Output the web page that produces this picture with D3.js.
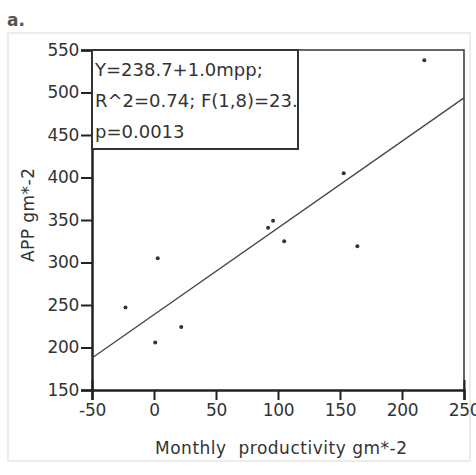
<!DOCTYPE html>
<html>
<head>
<meta charset="utf-8">
<script src="https://cdn.jsdelivr.net/npm/d3@7"></script>
<style>
  body { margin: 0; background: #fff; }
  text { font-family: "DejaVu Sans", sans-serif; fill: #333; }
</style>
</head>
<body>
<div class="canvas"></div>
<script>
// data
const mpp = [-23, 1, 3, 22, 92, 96, 105, 153, 164, 218];
const app = [247, 206, 305, 224, 341, 349, 325, 405, 319, 538];
const xTicks = [-50, 0, 50, 100, 150, 200, 250];
const yTicks = [150, 200, 250, 300, 350, 400, 450, 500, 550];
const fitIntercept = 238.7;
const fitSlope = 1.02;
const statLines = ['Y=238.7+1.0mpp;', 'R^2=0.74; F(1,8)=23.1', 'p=0.0013'];

const W = 476, H = 475;
const margin = {top: 50, right: 12, bottom: 85, left: 92};
const w = W - margin.left - margin.right;
const h = H - margin.top - margin.bottom;

const svg = d3.select('.canvas')
    .append('svg')
        .attr('width', W)
        .attr('height', H);

// faint panel outline
svg.append('rect')
    .attr('x', 8).attr('y', 33)
    .attr('width', 462).attr('height', 428)
    .attr('fill', 'none')
    .attr('stroke', '#ececec')
    .attr('stroke-width', 2);

svg.append('text')
    .attr('x', 7).attr('y', 26)
    .attr('font-size', 17)
    .attr('font-weight', 'bold')
    .style('fill', '#555')
    .text('a.');

const graph = svg.append('g')
    .attr('transform', `translate(${margin.left}, ${margin.top})`);

const x = d3.scaleLinear().domain([-50, 250]).range([0, w]);
const y = d3.scaleLinear().domain([150, 550]).range([h, 0]);

// top and right frame
graph.append('path')
    .attr('d', `M0,0H${w}V${h}`)
    .attr('fill', 'none')
    .attr('stroke', '#333')
    .attr('stroke-width', 1.5);

// axes
const xAxis = d3.axisBottom(x).tickValues(xTicks).tickSize(10).tickPadding(4)
    .tickFormat(d => String(d));
const yAxis = d3.axisLeft(y).tickValues(yTicks).tickSize(11).tickPadding(2)
    .tickFormat(d => String(d));

const xg = graph.append('g')
    .attr('transform', `translate(0, ${h})`)
    .call(xAxis);
const yg = graph.append('g').call(yAxis);

[xg, yg].forEach(g => {
    g.select('.domain').attr('stroke', '#222').attr('stroke-width', 2.5);
    g.selectAll('.tick line').attr('stroke', '#222').attr('stroke-width', 2);
    g.selectAll('.tick text')
        .attr('font-size', 17)
        .attr('font-family', '"DejaVu Sans", sans-serif')
        .attr('letter-spacing', -0.3)
        .style('fill', '#333');
});
xg.selectAll('.tick line').attr('y1', d => (d === -50 || d === 250) ? -10 : 0);

// regression line
graph.append('line')
    .attr('x1', x(-50)).attr('y1', y(fitIntercept + fitSlope * -50))
    .attr('x2', x(250)).attr('y2', y(fitIntercept + fitSlope * 250))
    .attr('stroke', '#444')
    .attr('stroke-width', 1.3);

// points
graph.selectAll('circle')
    .data(mpp)
    .enter()
    .append('circle')
        .attr('cx', d => x(d))
        .attr('cy', (d, i) => y(app[i]))
        .attr('r', 2)
        .attr('fill', '#333');

// stats box (text clipped at the box edge, as in the original)
const boxW = 206, boxH = 99;
svg.append('clipPath').attr('id', 'boxclip')
    .append('rect').attr('width', boxW).attr('height', boxH);
const box = graph.append('g').attr('clip-path', 'url(#boxclip)');
box.append('rect')
    .attr('width', boxW).attr('height', boxH)
    .attr('fill', '#fff');
box.selectAll('text')
    .data(statLines)
    .enter()
    .append('text')
        .attr('x', 3)
        .attr('y', (d, i) => 26 + i * 31)
        .attr('font-size', 18)
        .text(d => d);
graph.append('rect')
    .attr('width', boxW).attr('height', boxH)
    .attr('fill', 'none')
    .attr('stroke', '#333')
    .attr('stroke-width', 2);

// axis labels
svg.append('text')
    .attr('x', 281)
    .attr('y', 454)
    .attr('text-anchor', 'middle')
    .attr('font-size', 17)
    .attr('xml:space', 'preserve')
    .attr('textLength', 252)
    .text('Monthly  productivity gm*-2');

svg.append('text')
    .attr('transform', 'translate(34, 215) rotate(-90)')
    .attr('text-anchor', 'middle')
    .attr('font-size', 17)
    .attr('textLength', 94)
    .text('APP gm*-2');
</script>
</body>
</html>
